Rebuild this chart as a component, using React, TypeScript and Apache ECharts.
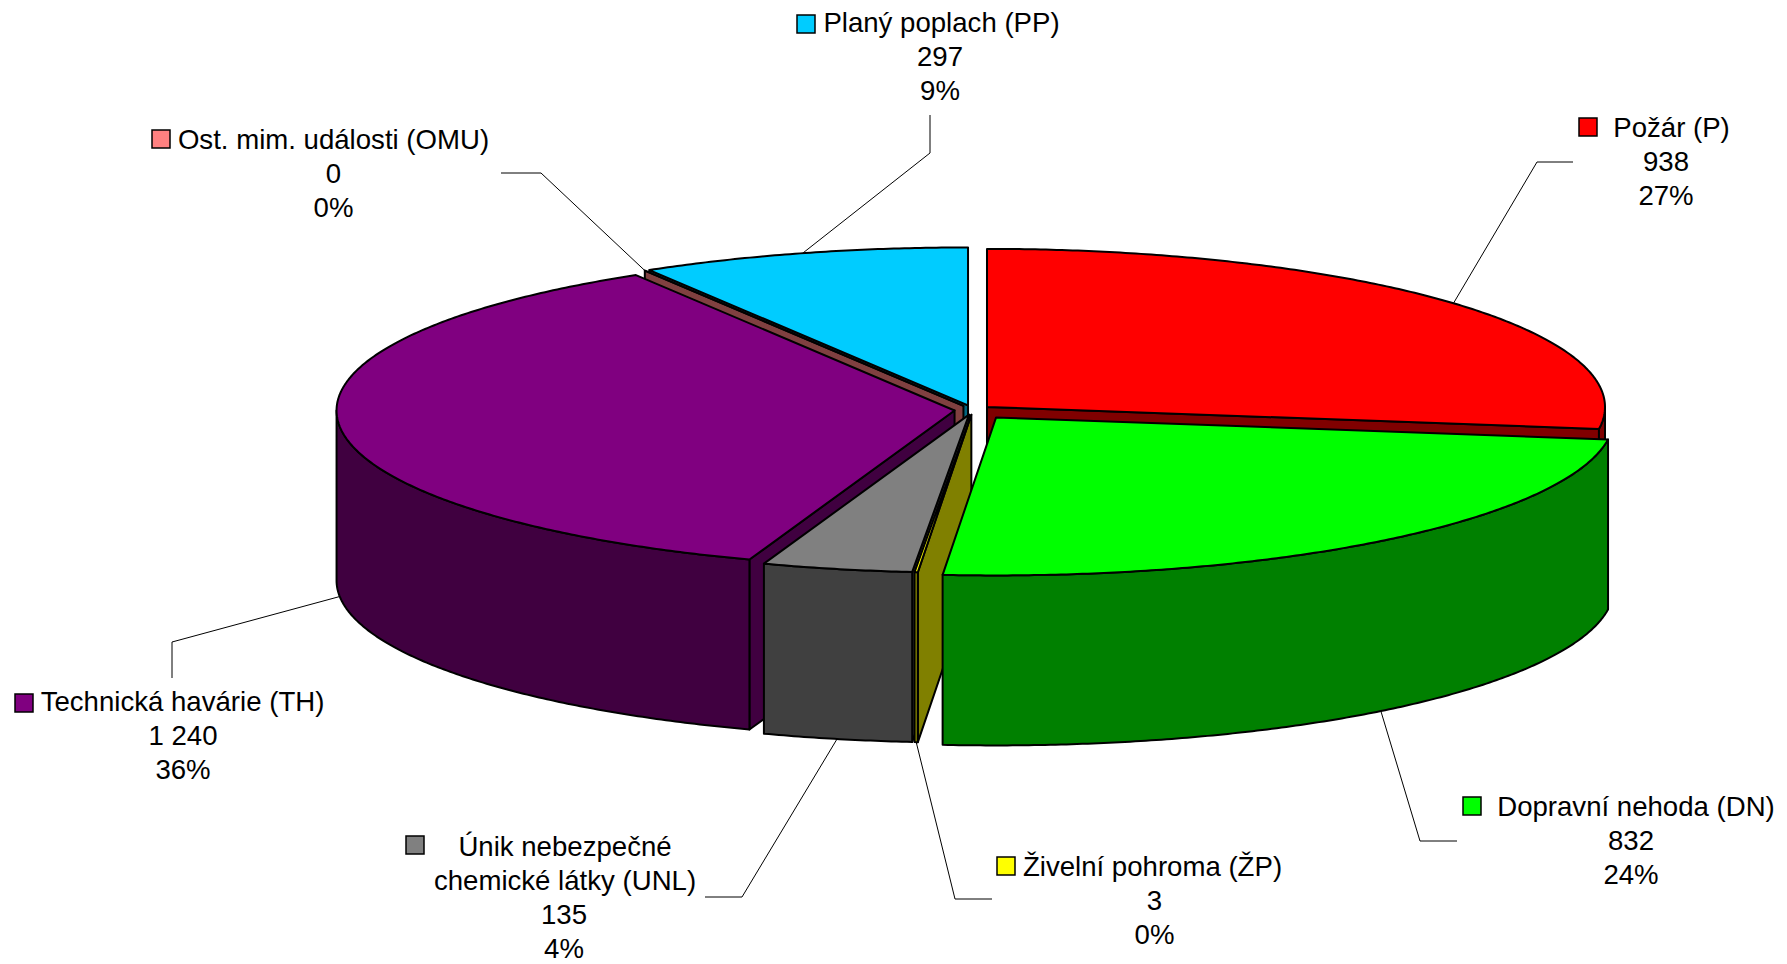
import React, { useEffect, useRef } from "react";
import * as echarts from "echarts";

// ---- data ----
const NAMES = [
  "Požár (P)",
  "Dopravní nehoda (DN)",
  "Živelní pohroma (ŽP)",
  "Únik nebezpečné\nchemické látky (UNL)",
  "Technická havárie (TH)",
  "Ost. mim. události (OMU)",
  "Planý poplach (PP)",
];
const VALUES = [938, 832, 3, 135, 1240, 0, 297];

// ---- styles ----
const TOP_COLORS = ["#FF0000", "#00FF00", "#FFFF00", "#808080", "#800080", "#FF8080", "#00CCFF"];
const SIDE_COLORS = ["#800000", "#008000", "#808000", "#404040", "#400040", "#804040", "#006680"];
const EXPLODE = [0.03, 0.06, 0.03, 0.03, 0.03, 0.03, 0.03];

// ---- label layout (text centre x, first line centre y, legend key, leader elbow) ----
const LABEL_LAYOUT = [
  { nameX: 1671.5, valX: 1666, y: 127.5, sq: [1579, 118], elbow: [[1573, 162], [1537, 162]] },
  { nameX: 1636, valX: 1631, y: 806, sq: [1463, 797], elbow: [[1457, 841], [1420, 841]] },
  { nameX: 1152.5, valX: 1154.5, y: 866, sq: [997, 857], elbow: [[992, 899], [955, 899]] },
  { nameX: 565, valX: 564, y: 846, sq: [406, 836], elbow: [[705, 897], [742, 897]] },
  { nameX: 182.5, valX: 183, y: 701, sq: [15, 694], elbow: [[172, 678], [172, 642]] },
  { nameX: 333.5, valX: 333.5, y: 139.5, sq: [152, 130], elbow: [[501, 173], [541, 173]] },
  { nameX: 941.5, valX: 940, y: 22.5, sq: [797, 15], elbow: [[930, 115], [930, 153]] },
];

const CX = 973, CY = 410, RX = 618, RY = 158, DEPTH = 170;
const FONT_FAMILY = '"Liberation Sans", Arial, sans-serif';
const FONT_SIZE = 27.6;
const LH = 34;
const DEG = Math.PI / 180;
const TOTAL = VALUES.reduce((a, b) => a + b, 0);

type Geom = { a0: number; a1: number; am: number; ox: number; oy: number };

function sliceGeom(i: number): Geom {
  let cum = 0;
  for (let k = 0; k < i; k++) cum += VALUES[k];
  const a0 = (cum / TOTAL) * 2 * Math.PI;
  const a1 = ((cum + VALUES[i]) / TOTAL) * 2 * Math.PI;
  const am = (a0 + a1) / 2;
  const f = EXPLODE[i];
  return { a0, a1, am, ox: CX + f * RX * Math.sin(am), oy: CY - f * RY * Math.cos(am) };
}
const rim = (g: Geom, a: number, dy = 0): number[] => [g.ox + RX * Math.sin(a), g.oy - RY * Math.cos(a) + dy];
function arcPts(g: Geom, a: number, b: number, dy = 0): number[][] {
  const n = Math.max(2, Math.ceil(Math.abs(b - a) / (0.5 * DEG)) + 1);
  const pts: number[][] = [];
  for (let k = 0; k < n; k++) pts.push(rim(g, a + ((b - a) * k) / (n - 1), dy));
  return pts;
}

const fmtNum = (v: number) => String(v).replace(/\B(?=(\d{3})+(?!\d))/g, " ");

function renderItem(params: any) {
  const i = params.dataIndex;
  const g = sliceGeom(i);
  const st = { stroke: "#000", lineWidth: 2, lineJoin: "round" };
  const apex = [g.ox, g.oy];
  const children: any[] = [];
  const face = (a: number) => {
    const p = rim(g, a);
    return {
      type: "polygon",
      z2: 100 + (g.oy + p[1]) / 2,
      shape: { points: [apex, p, [p[0], p[1] + DEPTH], [apex[0], apex[1] + DEPTH]] },
      style: { fill: SIDE_COLORS[i], ...st },
    };
  };
  if (Math.sin(g.a0) < -1e-9) children.push(face(g.a0));
  if (Math.sin(g.a1) > 1e-9) children.push(face(g.a1));
  const w0 = Math.max(g.a0, Math.PI / 2);
  const w1 = Math.min(g.a1, 1.5 * Math.PI);
  if (w1 > w0) {
    const top = arcPts(g, w0, w1);
    const bot = arcPts(g, w1, w0, DEPTH);
    const mid = rim(g, (w0 + w1) / 2);
    children.push({
      type: "polygon",
      z2: 100 + mid[1],
      shape: { points: top.concat(bot) },
      style: { fill: SIDE_COLORS[i], ...st },
    });
  }
  children.push({
    type: "polygon",
    z2: 3000,
    shape: { points: [apex].concat(arcPts(g, g.a0, g.a1)) },
    style: { fill: TOP_COLORS[i], ...st },
  });
  return { type: "group", children };
}

function buildLabels(): any[] {
  const els: any[] = [];
  VALUES.forEach((v, i) => {
    const L = LABEL_LAYOUT[i];
    const g = sliceGeom(i);
    const front = Math.cos(g.am) < 0;
    const target = rim(g, g.am, front ? DEPTH : 0);
    els.push({
      type: "polyline",
      silent: true,
      shape: { points: [L.elbow[0], L.elbow[1], target] },
      style: { stroke: "#000", lineWidth: 1, fill: null },
    });
    els.push({
      type: "rect",
      silent: true,
      shape: { x: L.sq[0], y: L.sq[1], width: 18, height: 18 },
      style: { fill: TOP_COLORS[i], stroke: "#000", lineWidth: 1.5 },
    });
    const nameLines = NAMES[i].split("\n");
    const pct = Math.round((v / TOTAL) * 100) + "%";
    const lines = nameLines.concat([fmtNum(v), pct]);
    lines.forEach((t, k) => {
      els.push({
        type: "text",
        silent: true,
        x: k < nameLines.length ? L.nameX : L.valX,
        y: L.y + k * LH,
        style: {
          text: t,
          fontFamily: FONT_FAMILY,
          fontSize: FONT_SIZE,
          fill: "#000",
          textAlign: "center",
          textVerticalAlign: "middle",
        },
      });
    });
  });
  return els;
}

export default function App() {
  const ref = useRef<HTMLDivElement>(null);
  useEffect(() => {
    const chart = echarts.init(ref.current!, null, { renderer: "svg" });
    chart.setOption({
      animation: false,
      backgroundColor: "#fff",
      series: [
        {
          type: "custom",
          coordinateSystem: "none",
          silent: true,
          renderItem,
          data: VALUES.map((v, i) => [i, v]),
        },
      ],
      graphic: buildLabels(),
    });
    return () => chart.dispose();
  }, []);
  return (
    <div
      ref={ref}
      style={{ position: "fixed", left: 0, top: 0, width: 1787, height: 964, background: "#fff" }}
    />
  );
}
